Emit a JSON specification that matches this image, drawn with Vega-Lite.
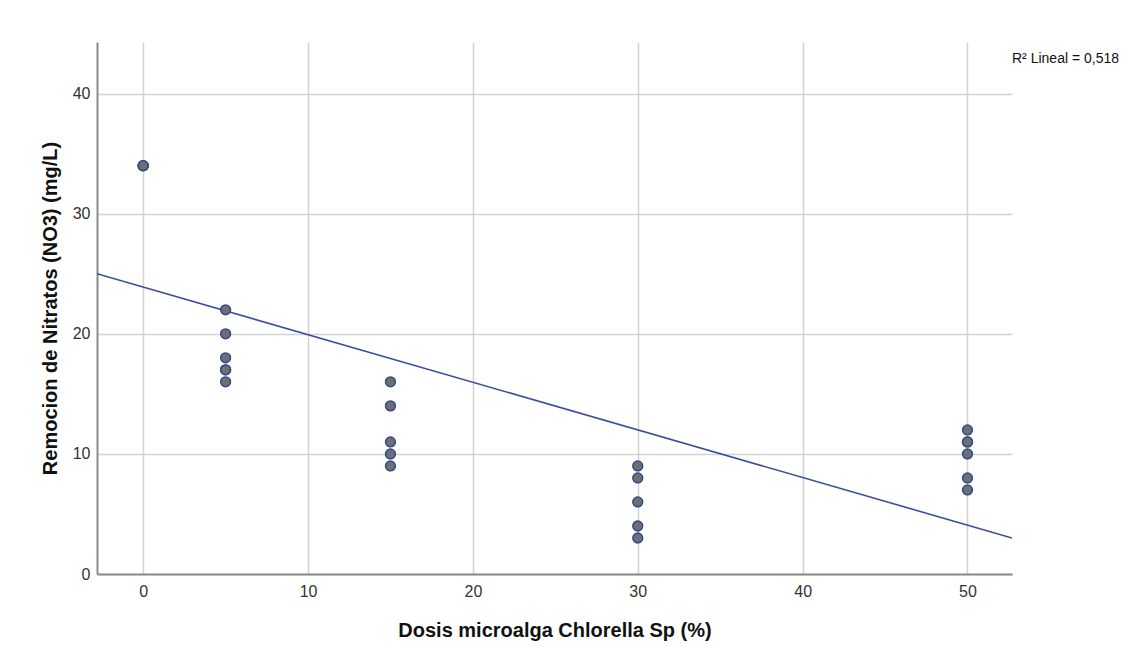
{
  "$schema": "https://vega.github.io/schema/vega-lite/v6.json",
  "width": 915,
  "height": 532,
  "autosize": {"type": "none"},
  "padding": {"left": 97, "top": 42, "right": 115, "bottom": 87},
  "background": "white",
  "config": {
    "font": "Liberation Sans",
    "view": {"stroke": null},
    "axis": {
      "domainColor": "#8a8a8a",
      "domainWidth": 2,
      "gridColor": "#d2d2d2",
      "gridWidth": 1.5,
      "ticks": false,
      "labelFont": "Liberation Sans",
      "labelFontSize": 16,
      "labelColor": "#333333",
      "titleFont": "Liberation Sans",
      "titleFontSize": 20,
      "titleFontWeight": "bold",
      "titleColor": "#111111"
    }
  },
  "datasets": {
    "points": [
      {"dosis": 0, "remocion": 34},
      {"dosis": 0, "remocion": 34},
      {"dosis": 0, "remocion": 34},
      {"dosis": 5, "remocion": 22},
      {"dosis": 5, "remocion": 20},
      {"dosis": 5, "remocion": 18},
      {"dosis": 5, "remocion": 17},
      {"dosis": 5, "remocion": 17},
      {"dosis": 5, "remocion": 16},
      {"dosis": 15, "remocion": 16},
      {"dosis": 15, "remocion": 14},
      {"dosis": 15, "remocion": 11},
      {"dosis": 15, "remocion": 10},
      {"dosis": 15, "remocion": 9},
      {"dosis": 30, "remocion": 9},
      {"dosis": 30, "remocion": 8},
      {"dosis": 30, "remocion": 6},
      {"dosis": 30, "remocion": 4},
      {"dosis": 30, "remocion": 3},
      {"dosis": 50, "remocion": 12},
      {"dosis": 50, "remocion": 11},
      {"dosis": 50, "remocion": 11},
      {"dosis": 50, "remocion": 10},
      {"dosis": 50, "remocion": 8},
      {"dosis": 50, "remocion": 7}
    ],
    "fit": [
      {"dosis": -2.8, "remocion": 25.0},
      {"dosis": 52.7, "remocion": 3.0}
    ],
    "label": [
      {"dosis": 52.7, "remocion": 42.9, "text": "R² Lineal = 0,518"}
    ]
  },
  "encoding": {
    "x": {
      "field": "dosis",
      "type": "quantitative",
      "scale": {"domain": [-2.8, 52.7], "nice": false, "zero": false},
      "axis": {
        "values": [0, 10, 20, 30, 40, 50],
        "title": "Dosis microalga Chlorella Sp (%)",
        "labelPadding": 9,
        "titlePadding": 21
      }
    },
    "y": {
      "field": "remocion",
      "type": "quantitative",
      "scale": {"domain": [0, 44.3], "nice": false},
      "axis": {
        "values": [0, 10, 20, 30, 40],
        "title": "Remocion de Nitratos (NO3) (mg/L)",
        "labelPadding": 7,
        "titlePadding": 12
      }
    }
  },
  "layer": [
    {
      "data": {"name": "fit"},
      "mark": {"type": "line", "color": "#3a4f9c", "strokeWidth": 1.6, "clip": true}
    },
    {
      "data": {"name": "points"},
      "mark": {"type": "point", "shape": "circle", "filled": true, "size": 95, "fill": "#6f6f6f", "stroke": "#2f4a94", "strokeWidth": 1.6, "opacity": 1, "fillOpacity": 1, "strokeOpacity": 1}
    },
    {
      "data": {"name": "label"},
      "mark": {"type": "text", "align": "left", "baseline": "middle", "dx": 0, "fontSize": 14, "font": "Liberation Sans", "color": "#111111", "clip": false},
      "encoding": {"text": {"field": "text"}}
    }
  ]
}
